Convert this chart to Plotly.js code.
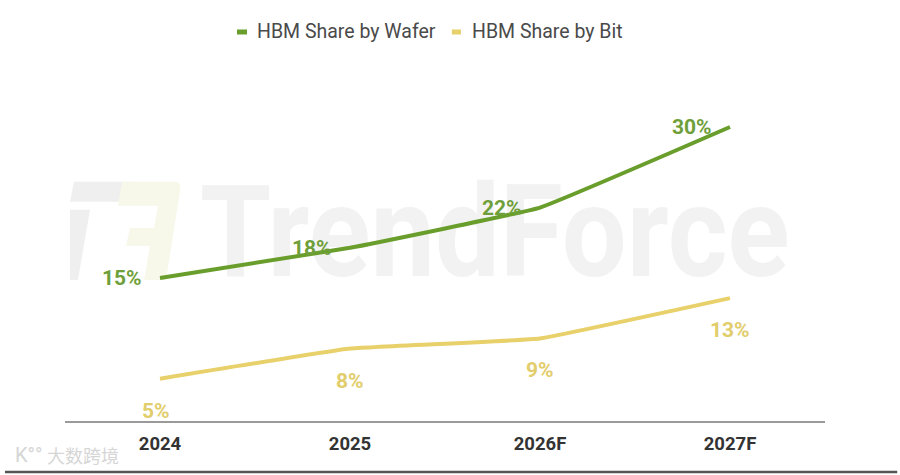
<!DOCTYPE html>
<html>
<head>
<meta charset="utf-8">
<script src="https://cdn.plot.ly/plotly-3.0.1.min.js"></script>
<style>
html,body{margin:0;padding:0;background:#fff;}
#chart{width:900px;height:475px;}
</style>
</head>
<body>
<div id="chart"></div>
<script>
const categories = ["2024", "2025", "2026F", "2027F"];
const waferShare = [15, 18, 22, 30];
const bitShare = [5, 8, 9, 13];
const waferName = "HBM Share by Wafer";
const bitName = "HBM Share by Bit";

const green = "#6a9e2c";
const yellow = "#e8d06a";
const catIdx = categories.map((c, i) => i);

const traces = [
  {
    x: catIdx, y: waferShare, name: waferName, type: "scatter", mode: "lines",
    line: {color: green, width: 4, shape: "spline", smoothing: 0.25},
    hoverinfo: "skip", showlegend: false
  },
  {
    x: catIdx, y: bitShare, name: bitName, type: "scatter", mode: "lines",
    line: {color: yellow, width: 4, shape: "spline", smoothing: 0.25},
    hoverinfo: "skip", showlegend: false
  }
];

const labelFont = "Roboto, Arial, sans-serif";
const annotations = [];
catIdx.forEach((i) => {
  annotations.push({
    x: i, y: waferShare[i], xref: "x", yref: "y",
    text: waferShare[i] + "%", showarrow: false,
    xanchor: "right", yanchor: "middle", xshift: -16, yshift: 0,
    font: {family: labelFont, size: 21, color: "#6f9f3a", weight: 700}
  });
  annotations.push({
    x: i, y: bitShare[i], xref: "x", yref: "y",
    text: bitShare[i] + "%", showarrow: false,
    xanchor: "center", yanchor: "middle", xshift: (i === 0 ? -4 : 0), yshift: -32,
    font: {family: labelFont, size: 21, color: "#e2cd6c", weight: 700}
  });
});

// custom legend (short dash symbols like the reference)
const legendY = 1.06;
const legendFont = {family: labelFont, size: 19.5, color: "#4a4a4a"};
annotations.push({xref: "paper", yref: "paper", x: 0.25, y: legendY, xanchor: "left", yanchor: "middle",
  text: waferName, showarrow: false, font: legendFont});
annotations.push({xref: "paper", yref: "paper", x: 0.533, y: legendY, xanchor: "left", yanchor: "middle",
  text: bitName, showarrow: false, font: legendFont});

// bottom-left watermark
annotations.push({
  xref: "paper", yref: "paper", x: -0.026, y: -0.093, xanchor: "left", yanchor: "middle",
  text: "大数跨境", showarrow: false,
  font: {family: "Noto Sans CJK SC, sans-serif", size: 18, color: "#d6d6d6"}
});
annotations.push({
  xref: "paper", yref: "paper", x: -0.068, y: -0.093, xanchor: "left", yanchor: "middle",
  text: "K°°", showarrow: false,
  font: {family: "Roboto, sans-serif", size: 20, color: "#d6d6d6"}
});

// faint TrendForce watermark behind the lines
const wmSvg = '<svg xmlns="http://www.w3.org/2000/svg" width="720" height="110" viewBox="0 0 720 110">' +
  '<path d="M4 6 L62 6 L56 26 L0 26 Z M0 34 L20 34 L8 104 L-12 104 Z" fill="#efefef"/>' +
  '<path d="M52 6 L104 6 Q112 6 110 16 L96 104 L74 104 L80 70 L56 70 L60 52 L84 52 L88 30 L48 30 Z" fill="#f7f8ea"/>' +
  '<text x="130" y="100" font-family="Roboto, Arial, sans-serif" font-weight="700" font-size="128" fill="#f2f2f2" textLength="590" lengthAdjust="spacingAndGlyphs">TrendForce</text>' +
  '</svg>';
const wmUri = "data:image/svg+xml;charset=utf-8," + encodeURIComponent(wmSvg);

const layout = {
  width: 900, height: 475,
  margin: {l: 65, r: 75, t: 54, b: 54, autoexpand: false},
  paper_bgcolor: "#ffffff", plot_bgcolor: "rgba(0,0,0,0)",
  showlegend: false,
  xaxis: {
    range: [-0.5, 3.5],
    tickmode: "array", tickvals: catIdx, ticktext: categories,
    showgrid: false, zeroline: false,
    showline: true, linecolor: "#9a9a9a", linewidth: 2,
    ticks: "", ticklen: 0, ticklabelstandoff: 5,
    tickfont: {family: "Roboto, Arial, sans-serif", size: 18.5, color: "#333333", weight: 700},
    fixedrange: true
  },
  yaxis: {
    range: [0.8, 37.25],
    showgrid: false, zeroline: false, showline: false,
    showticklabels: false, ticks: "",
    fixedrange: true
  },
  images: [{
    source: wmUri, xref: "paper", yref: "paper",
    x: 0.0066, y: 0.668, sizex: 0.947, sizey: 0.30,
    xanchor: "left", yanchor: "top", sizing: "stretch", layer: "below", opacity: 1
  }],
  annotations: annotations,
  shapes: [
    {type: "line", xref: "paper", yref: "paper", x0: 0.2263, x1: 0.2395, y0: legendY, y1: legendY,
     line: {color: green, width: 5}},
    {type: "line", xref: "paper", yref: "paper", x0: 0.509, x1: 0.521, y0: legendY, y1: legendY,
     line: {color: yellow, width: 5}},
    {type: "line", xref: "paper", yref: "paper", x0: -0.079, x1: 1.095, y0: -0.139, y1: -0.139,
     line: {color: "#555555", width: 2.5}}
  ]
};

Plotly.newPlot("chart", traces, layout, {displayModeBar: false, staticPlot: true});
</script>
</body>
</html>
